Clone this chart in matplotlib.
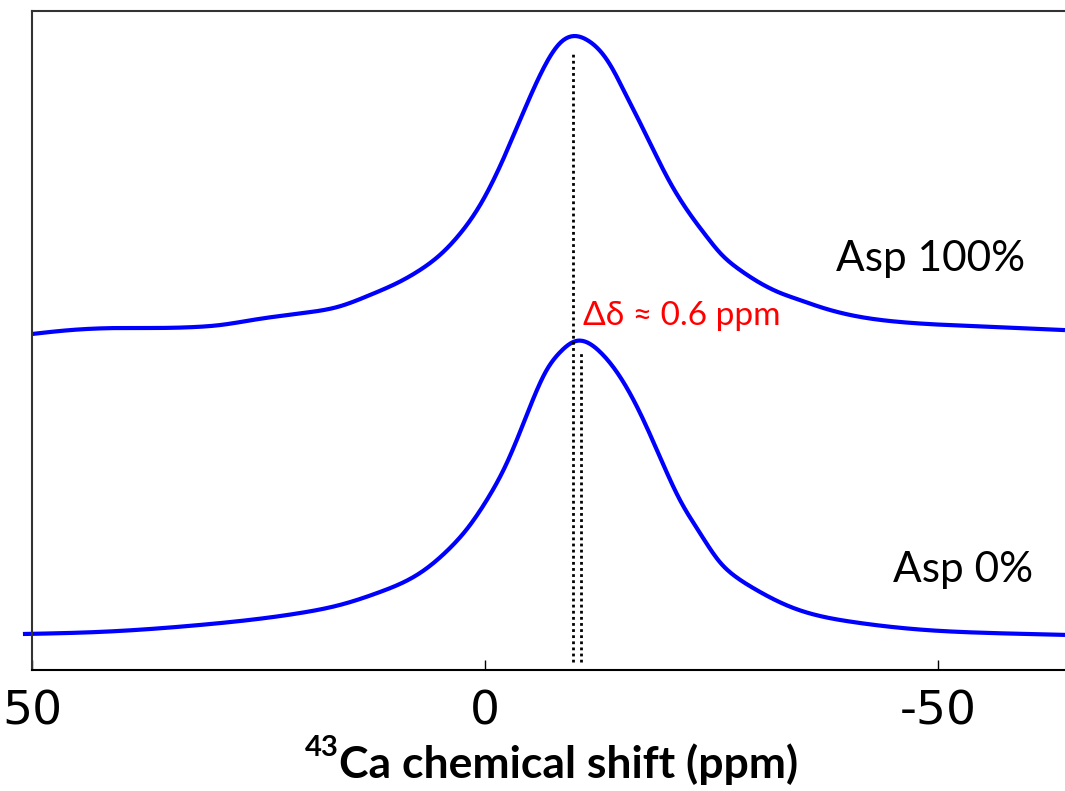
import matplotlib
matplotlib.use('Agg')
import matplotlib.pyplot as plt
import numpy as np

plt.rcParams['axes.unicode_minus'] = False

# 43Ca spectra: shift (ppm), intensity (a.u., stacked)
shift_0 = [51.0, 42.5, 31.5, 20.4, 16.0, 11.6, 7.2, 4.2, 2.0, -0.2, -2.4, -4.6,
           -6.8, -8.3, -10.1, -11.4, -12.7, -14.9, -17.1, -19.3, -21.5, -23.7,
           -25.9, -27.7, -29.6, -34.0, -40.6, -48.8, -56.1, -64.0]
asp_0 = [0.120, 0.127, 0.150, 0.190, 0.217, 0.260, 0.323, 0.397, 0.470, 0.567,
         0.690, 0.850, 1.000, 1.060, 1.097, 1.090, 1.060, 0.977, 0.857, 0.710,
         0.567, 0.457, 0.360, 0.310, 0.273, 0.207, 0.160, 0.133, 0.123, 0.117]

shift_100 = [50.0, 45.8, 40.3, 36.6, 32.2, 29.2, 25.6, 20.1, 16.3, 12.7, 9.7,
             7.2, 5.0, 2.8, 0.55, -1.66, -3.86, -6.07, -8.28, -9.71, -11.26,
             -13.47, -15.67, -17.88, -20.09, -22.3, -24.5, -25.94, -28.15,
             -30.35, -32.56, -34.77, -36.98, -41.39, -45.81, -53.2, -64.0]
asp_100 = [1.120, 1.133, 1.140, 1.140, 1.143, 1.150, 1.167, 1.190, 1.210,
           1.250, 1.290, 1.333, 1.383, 1.453, 1.550, 1.680, 1.833, 1.983,
           2.090, 2.113, 2.100, 2.033, 1.910, 1.777, 1.643, 1.533, 1.443,
           1.390, 1.333, 1.290, 1.257, 1.233, 1.210, 1.177, 1.160, 1.147, 1.133]

peak_100 = -9.7
peak_0 = -10.6
xticks = [50, 0, -50]


def spline(x, y, n=800):
    # natural cubic spline through the read points
    x = np.asarray(x, float)[::-1]
    y = np.asarray(y, float)[::-1]
    N = len(x)
    h = np.diff(x)
    A = np.zeros((N, N))
    r = np.zeros(N)
    A[0, 0] = A[-1, -1] = 1
    for i in range(1, N - 1):
        A[i, i - 1] = h[i - 1]
        A[i, i] = 2 * (h[i - 1] + h[i])
        A[i, i + 1] = h[i]
        r[i] = 6 * ((y[i + 1] - y[i]) / h[i] - (y[i] - y[i - 1]) / h[i - 1])
    M = np.linalg.solve(A, r)
    xs = np.linspace(x[0], x[-1], n)
    k = np.clip(np.searchsorted(x, xs) - 1, 0, N - 2)
    a = x[k + 1] - xs
    b = xs - x[k]
    hk = h[k]
    ys = (M[k] * a**3 + M[k + 1] * b**3) / (6 * hk) \
        + (y[k] / hk - M[k] * hk / 6) * a + (y[k + 1] / hk - M[k + 1] * hk / 6) * b
    return xs, ys


fig = plt.figure(figsize=(10.65, 7.91), dpi=100)
ax = fig.add_axes([32 / 1065, 1 - 670 / 791, 1 - 32 / 1065, (670 - 11) / 791])

xs, ys = spline(shift_100, asp_100)
ax.plot(xs, ys, color='#0000ff', lw=3, clip_on=False, solid_capstyle='butt')
xs, ys = spline(shift_0, asp_0)
ax.plot(xs, ys, color='#0000ff', lw=3, clip_on=False, solid_capstyle='butt')

ax.plot([peak_100, peak_100], [0.027, 2.06], color='black', lw=2,
        linestyle=(0, (1, 1.2)))
ax.plot([peak_0, peak_0], [0.027, 1.06], color='black', lw=2,
        linestyle=(0, (1, 1.2)))

ax.set_xlim(50, -64)
ax.set_ylim(0, 659 / 300)
ax.set_yticks([])
ax.set_xticks(xticks)
ax.set_xticklabels([str(t) for t in xticks])
ax.tick_params(axis='x', direction='in', length=7, width=1, labelsize=34, pad=14)
for s in ['left', 'top', 'bottom']:
    ax.spines[s].set_linewidth(1.5)
ax.spines['top'].set_color('#333333')
ax.spines['left'].set_color('#333333')
ax.spines['right'].set_visible(False)

txt_font = ['Lato', 'Open Sans', 'DejaVu Sans']
ax.text(-38.7, 1.33, 'Asp 100%', fontsize=30.5, family=txt_font, va='baseline')
ax.text(-45.0, 0.293, 'Asp 0%', fontsize=30.5, family=txt_font, va='baseline')
ax.text(-10.8, 1.15, 'Δδ ≈ 0.6 ppm', fontsize=24, family=txt_font,
        color='#ff0000', va='baseline')

# axis label with superscript mass number
lab = fig.text(0.5 + 36 / 1065, 1 - 778 / 791, 'Ca chemical shift (ppm)',
               fontsize=32, fontweight='bold', family=txt_font,
               ha='center', va='baseline')
fig.canvas.draw()
bb = lab.get_window_extent()
fig.text(bb.x0, bb.y0 + 29, '43', fontsize=21, fontweight='bold',
         family=txt_font, ha='right', va='baseline',
         transform=None)

fig.savefig('out.png', dpi=100)
